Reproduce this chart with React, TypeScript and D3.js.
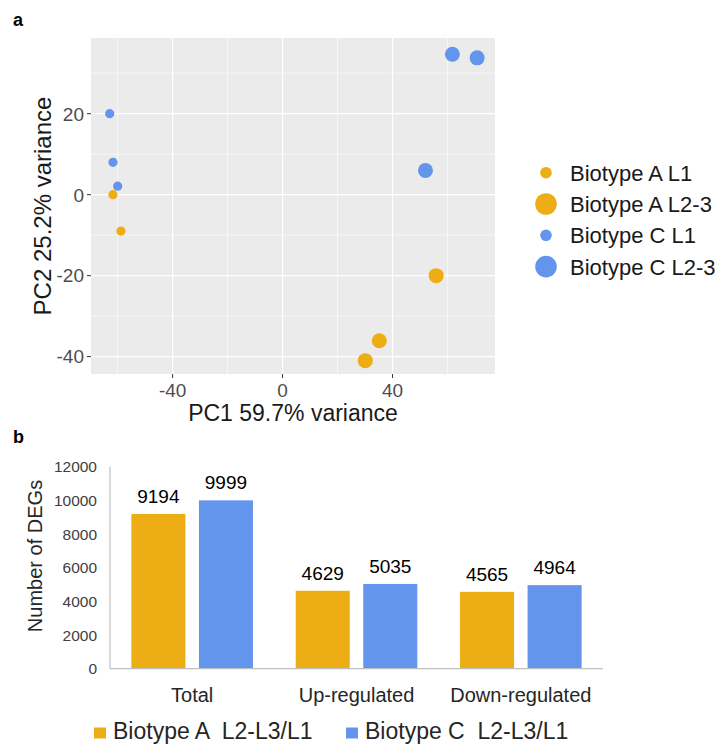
import React, { useEffect, useRef } from 'react'
import * as d3 from 'd3'

// panel a: PCA
const groups = ['Biotype A L1', 'Biotype A L2-3', 'Biotype C L1', 'Biotype C L2-3']
const pointGroup = [0, 0, 1, 1, 1, 2, 2, 2, 3, 3, 3]
const pc1 = [-61.7, -58.8, 30.1, 35.2, 55.9, -62.9, -61.7, -60.0, 52.0, 61.8, 70.8]
const pc2 = [0, -9, -41, -36.1, -20, 20, 8, 2.1, 6, 34.7, 33.8]
const pcXTicks = [-40, 0, 40]
const pcXMinor = [-60, -20, 20, 60]
const pcYTicks = [-40, -20, 0, 20]
const pcYMinor = [-30, -10, 10, 30]

// panel b: DEG counts
const categories = ['Total', 'Up-regulated', 'Down-regulated']
const seriesNames = ['Biotype A  L2-L3/L1', 'Biotype C  L2-L3/L1']
const biotypeA = [9194, 4629, 4565]
const biotypeC = [9999, 5035, 4964]
const degTicks = [0, 2000, 4000, 6000, 8000, 10000, 12000]

const ORANGE = '#ECAD15'
const BLUE = '#6495ED'
const FONT = '"Liberation Sans", Arial, sans-serif'

export default function App() {
  const ref = useRef<SVGSVGElement | null>(null)

  useEffect(() => {
    const svg = d3.select(ref.current!)
    svg.selectAll('*').remove()
    svg.attr('font-family', FONT)

    // ---------- panel a ----------
    const x = d3.scaleLinear().domain([-69.7, 77.3]).range([91, 495])
    const y = d3.scaleLinear().domain([-44.3, 38.7]).range([374, 38])
    const color = (g: number) => (g < 2 ? ORANGE : BLUE)
    const radius = (g: number) => (g % 2 === 0 ? 4.6 : 7.5)

    svg.append('text').attr('x', 13).attr('y', 26).attr('font-size', 18).attr('font-weight', 700).text('a')

    const pa = svg.append('g')
    pa.append('rect').attr('x', 91).attr('y', 38).attr('width', 404).attr('height', 336).attr('fill', '#EBEBEB')
    pa.selectAll('.gxm').data(pcXMinor).enter().append('line')
      .attr('x1', d => x(d)).attr('x2', d => x(d)).attr('y1', 38).attr('y2', 374)
      .attr('stroke', '#fff').attr('stroke-width', 0.6)
    pa.selectAll('.gym').data(pcYMinor).enter().append('line')
      .attr('y1', d => y(d)).attr('y2', d => y(d)).attr('x1', 91).attr('x2', 495)
      .attr('stroke', '#fff').attr('stroke-width', 0.6)
    pa.selectAll('.gx').data(pcXTicks).enter().append('line')
      .attr('x1', d => x(d)).attr('x2', d => x(d)).attr('y1', 38).attr('y2', 374)
      .attr('stroke', '#fff').attr('stroke-width', 1.2)
    pa.selectAll('.gy').data(pcYTicks).enter().append('line')
      .attr('y1', d => y(d)).attr('y2', d => y(d)).attr('x1', 91).attr('x2', 495)
      .attr('stroke', '#fff').attr('stroke-width', 1.2)

    // ticks + labels
    pa.selectAll('.tx').data(pcXTicks).enter().append('line')
      .attr('x1', d => x(d)).attr('x2', d => x(d)).attr('y1', 374).attr('y2', 378)
      .attr('stroke', '#333')
    pa.selectAll('.lx').data(pcXTicks).enter().append('text')
      .attr('x', d => x(d)).attr('y', 397).attr('text-anchor', 'middle')
      .attr('font-size', 19).attr('fill', '#4D4D4D').text(d => String(d))
    pa.selectAll('.ty').data(pcYTicks).enter().append('line')
      .attr('y1', d => y(d)).attr('y2', d => y(d)).attr('x1', 87).attr('x2', 91)
      .attr('stroke', '#333')
    pa.selectAll('.ly').data(pcYTicks).enter().append('text')
      .attr('x', 84).attr('y', d => y(d)).attr('dy', '0.36em').attr('text-anchor', 'end')
      .attr('font-size', 19).attr('fill', '#4D4D4D').text(d => String(d))

    pa.selectAll('circle').data(pc1.map((v, i) => ({ x: v, y: pc2[i], g: pointGroup[i] }))).enter().append('circle')
      .attr('cx', d => x(d.x)).attr('cy', d => y(d.y)).attr('r', d => radius(d.g)).attr('fill', d => color(d.g))

    svg.append('text').attr('x', 293).attr('y', 421).attr('text-anchor', 'middle')
      .attr('font-size', 23).attr('fill', '#1a1a1a').text('PC1 59.7% variance')
    svg.append('text').attr('transform', 'translate(51,206) rotate(-90)').attr('text-anchor', 'middle')
      .attr('font-size', 24).attr('fill', '#1a1a1a').text('PC2 25.2% variance')

    const leg = svg.append('g').selectAll('g').data(groups).enter().append('g')
      .attr('transform', (_, i) => `translate(546,${172.7 + i * 31.3})`)
    leg.append('circle').attr('r', (_, i) => (i % 2 === 0 ? 5.8 : 10.8)).attr('fill', (_, i) => color(i))
    leg.append('text').attr('x', 24).attr('dy', '0.36em').attr('font-size', 22).attr('fill', '#1a1a1a').text(d => d)

    // ---------- panel b ----------
    svg.append('text').attr('x', 13).attr('y', 443).attr('font-size', 18).attr('font-weight', 700).text('b')

    const x0 = d3.scaleBand<string>().domain(categories).range([110, 603]).paddingInner(0.26).paddingOuter(0.13)
    const x1 = d3.scaleBand<number>().domain([0, 1]).range([0, x0.bandwidth()]).paddingInner(0.2)
    const yb = d3.scaleLinear().domain([0, 12000]).range([668.7, 466.7])
    const values = [biotypeA, biotypeC]
    const fills = [ORANGE, BLUE]

    const pb = svg.append('g')
    pb.selectAll('.ylab').data(degTicks).enter().append('text')
      .attr('x', 97).attr('y', d => yb(d)).attr('dy', '0.36em').attr('text-anchor', 'end')
      .attr('font-size', 15.5).attr('fill', '#404040').text(d => String(d))

    const grp = pb.selectAll('.grp').data(categories).enter().append('g')
      .attr('transform', d => `translate(${x0(d)},0)`)
    grp.selectAll('rect').data((_, ci) => values.map((s, si) => ({ si, v: s[ci] }))).enter().append('rect')
      .attr('x', d => x1(d.si)!).attr('y', d => yb(d.v)).attr('width', x1.bandwidth())
      .attr('height', d => yb(0) - yb(d.v)).attr('fill', d => fills[d.si])
    grp.selectAll('text').data((_, ci) => values.map((s, si) => ({ si, v: s[ci] }))).enter().append('text')
      .attr('x', d => x1(d.si)! + x1.bandwidth() / 2).attr('y', d => yb(d.v) - 11)
      .attr('text-anchor', 'middle').attr('font-size', 19).text(d => String(d.v))

    pb.append('line').attr('x1', 110).attr('x2', 110).attr('y1', yb(12000)).attr('y2', yb(0))
      .attr('stroke', '#BFBFBF').attr('stroke-width', 1.2)
    pb.append('line').attr('x1', 110).attr('x2', 603).attr('y1', yb(0)).attr('y2', yb(0))
      .attr('stroke', '#BFBFBF').attr('stroke-width', 1.2)

    pb.selectAll('.cat').data(categories).enter().append('text')
      .attr('x', d => x0(d)! + x0.bandwidth() / 2).attr('y', 701.5).attr('text-anchor', 'middle')
      .attr('font-size', 20).attr('fill', '#262626').text(d => d)

    svg.append('text').attr('transform', 'translate(42,556) rotate(-90)').attr('text-anchor', 'middle')
      .attr('font-size', 20).attr('fill', '#262626').text('Number of DEGs')

    const lb = svg.append('g').selectAll('g').data(seriesNames).enter().append('g')
      .attr('transform', (_, i) => `translate(${i === 0 ? 94 : 346},0)`)
    lb.append('rect').attr('y', 727.5).attr('width', 12).attr('height', 11).attr('fill', (_, i) => fills[i])
    lb.append('text').attr('x', 19).attr('y', 738.5).attr('font-size', 23).attr('fill', '#262626')
      .style('white-space', 'pre').text(d => d)
  }, [])

  return (
    <svg ref={ref} width={727} height={744} style={{ position: 'absolute', left: 0, top: 0, background: '#fff' }} />
  )
}
